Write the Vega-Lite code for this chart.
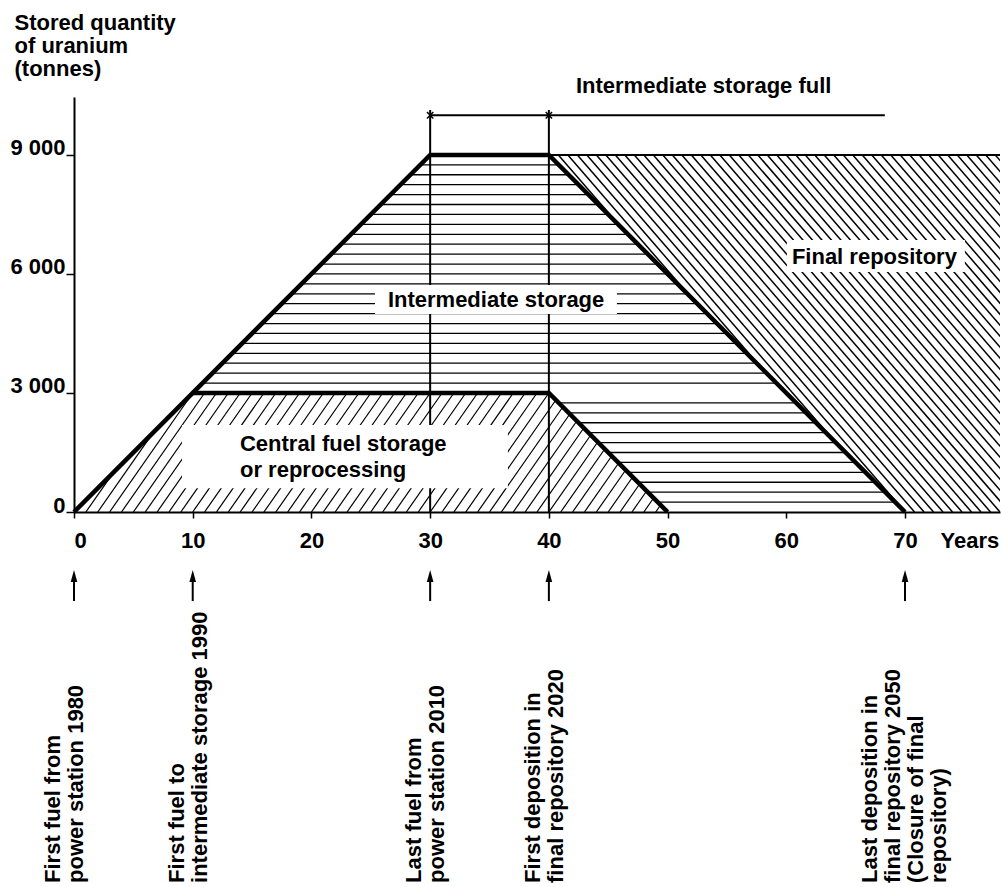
{
  "$schema": "https://vega.github.io/schema/vega-lite/v6.json",
  "width": 926,
  "height": 415,
  "autosize": {"type": "none"},
  "padding": {"left": 74, "top": 97, "right": 1, "bottom": 375},
  "config": {
    "view": {"stroke": null},
    "axis": {"grid": false, "domainColor": "black", "domainWidth": 2, "tickColor": "black", "tickWidth": 1.5,
      "labelFont": "Liberation Sans", "labelFontSize": 22, "labelFontWeight": "bold", "labelColor": "black",
      "titleFont": "Liberation Sans", "titleFontSize": 22, "titleFontWeight": "bold", "titleColor": "black", "titleAngle": 0}
  },
  "datasets": {
    "hatchFinal": [
      {"x": 40.8, "y": 9000, "x2": 46, "y2": 7200},
      {"x": 41.6, "y": 9000, "x2": 52, "y2": 5400},
      {"x": 42.4, "y": 9000, "x2": 58, "y2": 3600},
      {"x": 43.2, "y": 9000, "x2": 64, "y2": 1800},
      {"x": 44.0, "y": 9000, "x2": 70, "y2": 0},
      {"x": 44.8, "y": 9000, "x2": 70.8, "y2": 0},
      {"x": 45.6, "y": 9000, "x2": 71.6, "y2": 0},
      {"x": 46.4, "y": 9000, "x2": 72.4, "y2": 0},
      {"x": 47.2, "y": 9000, "x2": 73.2, "y2": 0},
      {"x": 48.0, "y": 9000, "x2": 74.0, "y2": 0},
      {"x": 48.8, "y": 9000, "x2": 74.8, "y2": 0},
      {"x": 49.6, "y": 9000, "x2": 75.6, "y2": 0},
      {"x": 50.4, "y": 9000, "x2": 76.4, "y2": 0},
      {"x": 51.2, "y": 9000, "x2": 77.2, "y2": 0},
      {"x": 52.0, "y": 9000, "x2": 78.0, "y2": 0},
      {"x": 52.8, "y": 9000, "x2": 78.8, "y2": 0},
      {"x": 53.6, "y": 9000, "x2": 79.6, "y2": 0},
      {"x": 54.4, "y": 9000, "x2": 80.4, "y2": 0},
      {"x": 55.2, "y": 9000, "x2": 81.2, "y2": 0},
      {"x": 56.0, "y": 9000, "x2": 82.0, "y2": 0},
      {"x": 56.8, "y": 9000, "x2": 82.8, "y2": 0},
      {"x": 57.6, "y": 9000, "x2": 83.6, "y2": 0},
      {"x": 58.4, "y": 9000, "x2": 84.4, "y2": 0},
      {"x": 59.2, "y": 9000, "x2": 85.2, "y2": 0},
      {"x": 60.0, "y": 9000, "x2": 86.0, "y2": 0},
      {"x": 60.8, "y": 9000, "x2": 86.8, "y2": 0},
      {"x": 61.6, "y": 9000, "x2": 87.6, "y2": 0},
      {"x": 62.4, "y": 9000, "x2": 88.4, "y2": 0},
      {"x": 63.2, "y": 9000, "x2": 89.2, "y2": 0},
      {"x": 64.0, "y": 9000, "x2": 90.0, "y2": 0},
      {"x": 64.8, "y": 9000, "x2": 90.8, "y2": 0},
      {"x": 65.6, "y": 9000, "x2": 91.6, "y2": 0},
      {"x": 66.4, "y": 9000, "x2": 92.4, "y2": 0},
      {"x": 67.2, "y": 9000, "x2": 93.2, "y2": 0},
      {"x": 68.0, "y": 9000, "x2": 94.0, "y2": 0},
      {"x": 68.8, "y": 9000, "x2": 94.8, "y2": 0},
      {"x": 69.6, "y": 9000, "x2": 95.6, "y2": 0},
      {"x": 70.4, "y": 9000, "x2": 96.4, "y2": 0},
      {"x": 71.2, "y": 9000, "x2": 97.2, "y2": 0},
      {"x": 72.0, "y": 9000, "x2": 98.0, "y2": 0},
      {"x": 72.8, "y": 9000, "x2": 98.8, "y2": 0},
      {"x": 73.6, "y": 9000, "x2": 99.6, "y2": 0},
      {"x": 74.4, "y": 9000, "x2": 100.4, "y2": 0},
      {"x": 75.2, "y": 9000, "x2": 101.2, "y2": 0},
      {"x": 76.0, "y": 9000, "x2": 102.0, "y2": 0},
      {"x": 76.8, "y": 9000, "x2": 102.8, "y2": 0},
      {"x": 77.6, "y": 9000, "x2": 103.6, "y2": 0}
    ],
    "hatchCentral": [
      {"x": 1, "y": 0, "x2": 3.333, "y2": 1000},
      {"x": 2, "y": 0, "x2": 6.667, "y2": 2000},
      {"x": 3, "y": 0, "x2": 10, "y2": 3000},
      {"x": 4, "y": 0, "x2": 11, "y2": 3000},
      {"x": 5, "y": 0, "x2": 12, "y2": 3000},
      {"x": 6, "y": 0, "x2": 13, "y2": 3000},
      {"x": 7, "y": 0, "x2": 14, "y2": 3000},
      {"x": 8, "y": 0, "x2": 15, "y2": 3000},
      {"x": 9, "y": 0, "x2": 16, "y2": 3000},
      {"x": 10, "y": 0, "x2": 17, "y2": 3000},
      {"x": 11, "y": 0, "x2": 18, "y2": 3000},
      {"x": 12, "y": 0, "x2": 19, "y2": 3000},
      {"x": 13, "y": 0, "x2": 20, "y2": 3000},
      {"x": 14, "y": 0, "x2": 21, "y2": 3000},
      {"x": 15, "y": 0, "x2": 22, "y2": 3000},
      {"x": 16, "y": 0, "x2": 23, "y2": 3000},
      {"x": 17, "y": 0, "x2": 24, "y2": 3000},
      {"x": 18, "y": 0, "x2": 25, "y2": 3000},
      {"x": 19, "y": 0, "x2": 26, "y2": 3000},
      {"x": 20, "y": 0, "x2": 27, "y2": 3000},
      {"x": 21, "y": 0, "x2": 28, "y2": 3000},
      {"x": 22, "y": 0, "x2": 29, "y2": 3000},
      {"x": 23, "y": 0, "x2": 30, "y2": 3000},
      {"x": 24, "y": 0, "x2": 31, "y2": 3000},
      {"x": 25, "y": 0, "x2": 32, "y2": 3000},
      {"x": 26, "y": 0, "x2": 33, "y2": 3000},
      {"x": 27, "y": 0, "x2": 34, "y2": 3000},
      {"x": 28, "y": 0, "x2": 35, "y2": 3000},
      {"x": 29, "y": 0, "x2": 36, "y2": 3000},
      {"x": 30, "y": 0, "x2": 37, "y2": 3000},
      {"x": 31, "y": 0, "x2": 38, "y2": 3000},
      {"x": 32, "y": 0, "x2": 39, "y2": 3000},
      {"x": 33, "y": 0, "x2": 40, "y2": 3000},
      {"x": 34, "y": 0, "x2": 40.588, "y2": 2823.5},
      {"x": 35, "y": 0, "x2": 41.176, "y2": 2647.1},
      {"x": 36, "y": 0, "x2": 41.765, "y2": 2470.6},
      {"x": 37, "y": 0, "x2": 42.353, "y2": 2294.1},
      {"x": 38, "y": 0, "x2": 42.941, "y2": 2117.6},
      {"x": 39, "y": 0, "x2": 43.529, "y2": 1941.2},
      {"x": 40, "y": 0, "x2": 44.118, "y2": 1764.7},
      {"x": 41, "y": 0, "x2": 44.706, "y2": 1588.2},
      {"x": 42, "y": 0, "x2": 45.294, "y2": 1411.8},
      {"x": 43, "y": 0, "x2": 45.882, "y2": 1235.3},
      {"x": 44, "y": 0, "x2": 46.471, "y2": 1058.8},
      {"x": 45, "y": 0, "x2": 47.059, "y2": 882.4},
      {"x": 46, "y": 0, "x2": 47.647, "y2": 705.9},
      {"x": 47, "y": 0, "x2": 48.235, "y2": 529.4},
      {"x": 48, "y": 0, "x2": 48.824, "y2": 352.9},
      {"x": 49, "y": 0, "x2": 49.412, "y2": 176.5}
    ],
    "hatchInter": [
      {"y": 250, "x": 49.167, "x2": 69.167},
      {"y": 500, "x": 48.333, "x2": 68.333},
      {"y": 750, "x": 47.5, "x2": 67.5},
      {"y": 1000, "x": 46.667, "x2": 66.667},
      {"y": 1250, "x": 45.833, "x2": 65.833},
      {"y": 1500, "x": 45, "x2": 65},
      {"y": 1750, "x": 44.167, "x2": 64.167},
      {"y": 2000, "x": 43.333, "x2": 63.333},
      {"y": 2250, "x": 42.5, "x2": 62.5},
      {"y": 2500, "x": 41.667, "x2": 61.667},
      {"y": 2750, "x": 40.833, "x2": 60.833},
      {"y": 3250, "x": 10.833, "x2": 59.167},
      {"y": 3500, "x": 11.667, "x2": 58.333},
      {"y": 3750, "x": 12.5, "x2": 57.5},
      {"y": 4000, "x": 13.333, "x2": 56.667},
      {"y": 4250, "x": 14.167, "x2": 55.833},
      {"y": 4500, "x": 15, "x2": 55},
      {"y": 4750, "x": 15.833, "x2": 54.167},
      {"y": 5000, "x": 16.667, "x2": 53.333},
      {"y": 5250, "x": 17.5, "x2": 52.5},
      {"y": 5500, "x": 18.333, "x2": 51.667},
      {"y": 5750, "x": 19.167, "x2": 50.833},
      {"y": 6000, "x": 20, "x2": 50},
      {"y": 6250, "x": 20.833, "x2": 49.167},
      {"y": 6500, "x": 21.667, "x2": 48.333},
      {"y": 6750, "x": 22.5, "x2": 47.5},
      {"y": 7000, "x": 23.333, "x2": 46.667},
      {"y": 7250, "x": 24.167, "x2": 45.833},
      {"y": 7500, "x": 25, "x2": 45},
      {"y": 7750, "x": 25.833, "x2": 44.167},
      {"y": 8000, "x": 26.667, "x2": 43.333},
      {"y": 8250, "x": 27.5, "x2": 42.5},
      {"y": 8500, "x": 28.333, "x2": 41.667},
      {"y": 8750, "x": 29.167, "x2": 40.833}
    ],
    "thinLines": [
      {"x": 30, "y": 0, "x2": 30, "y2": 10130},
      {"x": 40, "y": 0, "x2": 40, "y2": 10130},
      {"x": 30, "y": 10000, "x2": 68.3, "y2": 10000},
      {"x": 40, "y": 9000, "x2": 78, "y2": 9000}
    ],
    "bracketMarks": [
      {"x": 30, "y": 10000},
      {"x": 40, "y": 10000}
    ],
    "boxes": [
      {"x": 25.35, "x2": 45.73, "y": 4991, "y2": 5722},
      {"x": 9.1, "x2": 36.55, "y": 600, "y2": 2193},
      {"x": 60.05, "x2": 75.04, "y": 6050, "y2": 6857}
    ],
    "bounds": [
      {"path": "outer", "o": 1, "x": 0, "y": 0},
      {"path": "outer", "o": 2, "x": 30, "y": 9000},
      {"path": "outer", "o": 3, "x": 40, "y": 9000},
      {"path": "outer", "o": 4, "x": 70, "y": 0},
      {"path": "inner", "o": 1, "x": 10, "y": 3000},
      {"path": "inner", "o": 2, "x": 40, "y": 3000},
      {"path": "inner", "o": 3, "x": 50, "y": 0}
    ],
    "labels": [
      {"x": 26.44, "y": 5168, "text": "Intermediate storage"},
      {"x": 60.47, "y": 6252, "text": "Final repository"},
      {"x": 13.98, "y": 1550, "text": "Central fuel storage"},
      {"x": 13.98, "y": 880, "text": "or reprocessing"},
      {"x": 42.28, "y": 10562, "text": "Intermediate storage full"}
    ],
    "events": [
      {"year": 0, "label": "First fuel from\npower station 1980"},
      {"year": 10, "label": "First fuel to\nintermediate storage 1990"},
      {"year": 30, "label": "Last fuel from\npower station 2010"},
      {"year": 40, "label": "First deposition in\nfinal repository 2020"},
      {"year": 70, "label": "Last deposition in\nfinal repository 2050\n(Closure of final\nrepository)"}
    ]
  },
  "layer": [
    {
      "data": {"name": "hatchFinal"},
      "mark": {"type": "rule", "color": "black", "strokeWidth": 1.5, "clip": true},
      "encoding": {
        "x": {"field": "x", "type": "quantitative", "scale": {"domain": [0, 78], "nice": false, "zero": false},
          "axis": {"values": [0, 10, 20, 30, 40, 50, 60, 70], "format": "d", "tickSize": 6, "labelPadding": 12,
            "title": "Years", "titleX": 866, "titleY": 35, "titleAlign": "left", "titleBaseline": "alphabetic"}},
        "x2": {"field": "x2"},
        "y": {"field": "y", "type": "quantitative", "scale": {"domain": [0, 10460], "nice": false, "zero": false},
          "axis": {"values": [0, 3000, 6000, 9000], "labelExpr": "replace(format(datum.value, ','), ',', ' ')",
            "tickSize": 8, "labelPadding": 1, "labelBaseline": "alphabetic",
            "title": ["Stored quantity", "of uranium", "(tonnes)"],
            "titleX": -60, "titleY": -68, "titleAlign": "left", "titleBaseline": "alphabetic", "titleLineHeight": 23}},
        "y2": {"field": "y2"}
      }
    },
    {
      "data": {"name": "hatchCentral"},
      "mark": {"type": "rule", "color": "black", "strokeWidth": 1.2},
      "encoding": {
        "x": {"field": "x", "type": "quantitative"},
        "x2": {"field": "x2"},
        "y": {"field": "y", "type": "quantitative"},
        "y2": {"field": "y2"}
      }
    },
    {
      "data": {"name": "hatchInter"},
      "mark": {"type": "rule", "color": "black", "strokeWidth": 1.3},
      "encoding": {
        "x": {"field": "x", "type": "quantitative"},
        "x2": {"field": "x2"},
        "y": {"field": "y", "type": "quantitative"}
      }
    },
    {
      "data": {"name": "thinLines"},
      "mark": {"type": "rule", "color": "black", "strokeWidth": 2},
      "encoding": {
        "x": {"field": "x", "type": "quantitative"},
        "x2": {"field": "x2"},
        "y": {"field": "y", "type": "quantitative"},
        "y2": {"field": "y2"}
      }
    },
    {
      "data": {"name": "bracketMarks"},
      "mark": {"type": "point", "shape": "M-1,-1L1,1M-1,1L1,-1", "filled": false, "stroke": "black", "strokeWidth": 1.5, "size": 40, "opacity": 1},
      "encoding": {
        "x": {"field": "x", "type": "quantitative"},
        "y": {"field": "y", "type": "quantitative"}
      }
    },
    {
      "data": {"name": "boxes"},
      "mark": {"type": "rect", "fill": "white", "stroke": null},
      "encoding": {
        "x": {"field": "x", "type": "quantitative"},
        "x2": {"field": "x2"},
        "y": {"field": "y", "type": "quantitative"},
        "y2": {"field": "y2"}
      }
    },
    {
      "data": {"name": "bounds"},
      "mark": {"type": "line", "color": "black", "strokeWidth": 4.5, "strokeJoin": "miter", "strokeCap": "butt"},
      "encoding": {
        "x": {"field": "x", "type": "quantitative"},
        "y": {"field": "y", "type": "quantitative"},
        "detail": {"field": "path", "type": "nominal"},
        "order": {"field": "o", "type": "quantitative"}
      }
    },
    {
      "data": {"name": "labels"},
      "mark": {"type": "text", "font": "Liberation Sans", "fontWeight": "bold", "fontSize": 22, "color": "black", "align": "left", "baseline": "alphabetic"},
      "encoding": {
        "x": {"field": "x", "type": "quantitative"},
        "y": {"field": "y", "type": "quantitative"},
        "text": {"field": "text", "type": "nominal"}
      }
    },
    {
      "data": {"name": "events"},
      "mark": {"type": "rule", "color": "black", "strokeWidth": 2},
      "encoding": {
        "x": {"field": "year", "type": "quantitative"},
        "y": {"datum": -1700, "type": "quantitative"},
        "y2": {"datum": -2245}
      }
    },
    {
      "data": {"name": "events"},
      "mark": {"type": "point", "shape": "M0,-1L0.55,1L-0.55,1Z", "filled": true, "color": "black", "size": 144, "opacity": 1},
      "encoding": {
        "x": {"field": "year", "type": "quantitative"},
        "y": {"datum": -1613, "type": "quantitative"}
      }
    },
    {
      "data": {"name": "events"},
      "transform": [{"filter": "datum.year == 0"}],
      "mark": {"type": "text", "font": "Liberation Sans", "fontWeight": "bold", "fontSize": 22, "color": "black", "align": "left", "baseline": "alphabetic", "angle": 270, "dy": -14, "lineBreak": "\n", "lineHeight": 23},
      "encoding": {
        "x": {"field": "year", "type": "quantitative"},
        "y": {"datum": -9350, "type": "quantitative"},
        "text": {"field": "label", "type": "nominal"}
      }
    },
    {
      "data": {"name": "events"},
      "transform": [{"filter": "datum.year > 0 && datum.year < 70"}],
      "mark": {"type": "text", "font": "Liberation Sans", "fontWeight": "bold", "fontSize": 22, "color": "black", "align": "left", "baseline": "alphabetic", "angle": 270, "dy": -9, "lineBreak": "\n", "lineHeight": 23},
      "encoding": {
        "x": {"field": "year", "type": "quantitative"},
        "y": {"datum": -9350, "type": "quantitative"},
        "text": {"field": "label", "type": "nominal"}
      }
    },
    {
      "data": {"name": "events"},
      "transform": [{"filter": "datum.year == 70"}],
      "mark": {"type": "text", "font": "Liberation Sans", "fontWeight": "bold", "fontSize": 22, "color": "black", "align": "left", "baseline": "alphabetic", "angle": 270, "dy": -28, "lineBreak": "\n", "lineHeight": 23},
      "encoding": {
        "x": {"field": "year", "type": "quantitative"},
        "y": {"datum": -9350, "type": "quantitative"},
        "text": {"field": "label", "type": "nominal"}
      }
    }
  ]
}
